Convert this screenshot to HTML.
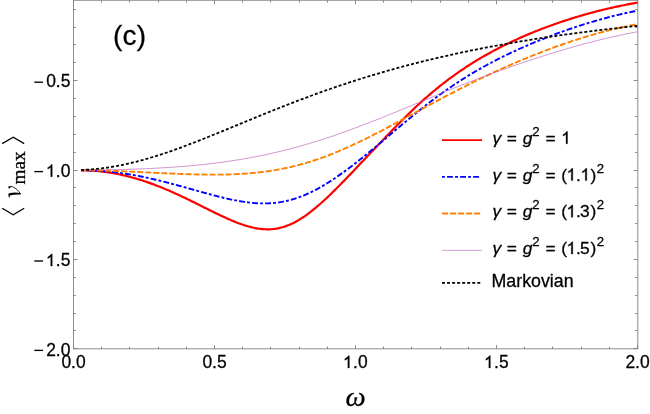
<!DOCTYPE html>
<html><head><meta charset="utf-8"><title>plot</title>
<style>
html,body{margin:0;padding:0;background:#ffffff;}
body{width:650px;height:414px;overflow:hidden;font-family:"Liberation Sans",sans-serif;}
svg{display:block;will-change:transform;}
text{font-family:"Liberation Sans",sans-serif;fill:#000;stroke:#000;stroke-width:0.28px;}
.serif{font-family:"Liberation Serif",serif;}
</style></head>
<body>
<svg width="650" height="414" viewBox="0 0 650 414">
<rect x="0" y="0" width="650" height="414" fill="#ffffff"/>
<g id="curves" stroke-linecap="butt" stroke-linejoin="round">
<path d="M81.0,170.40 L82.4,170.40 L83.8,170.41 L85.2,170.43 L86.6,170.47 L88.0,170.51 L89.4,170.56 L90.8,170.63 L92.2,170.71 L93.6,170.80 L94.9,170.90 L96.3,171.01 L97.7,171.13 L99.1,171.26 L100.5,171.40 L101.9,171.56 L103.3,171.72 L104.7,171.90 L106.1,172.08 L107.5,172.28 L108.9,172.49 L110.3,172.71 L111.7,172.94 L113.1,173.17 L114.5,173.42 L115.9,173.68 L117.3,173.95 L118.7,174.23 L120.1,174.52 L121.4,174.83 L122.8,175.14 L124.2,175.46 L125.6,175.79 L127.0,176.13 L128.4,176.48 L129.8,176.84 L131.2,177.21 L132.6,177.59 L134.0,177.98 L135.4,178.38 L136.8,178.79 L138.2,179.20 L139.6,179.63 L141.0,180.07 L142.4,180.51 L143.8,180.97 L145.2,181.43 L146.6,181.91 L147.9,182.39 L149.3,182.88 L150.7,183.38 L152.1,183.88 L153.5,184.40 L154.9,184.92 L156.3,185.45 L157.7,185.99 L159.1,186.54 L160.5,187.10 L161.9,187.66 L163.3,188.23 L164.7,188.81 L166.1,189.40 L167.5,189.99 L168.9,190.59 L170.3,191.20 L171.7,191.81 L173.1,192.43 L174.4,193.06 L175.8,193.69 L177.2,194.32 L178.6,194.97 L180.0,195.62 L181.4,196.27 L182.8,196.93 L184.2,197.59 L185.6,198.26 L187.0,198.93 L188.4,199.61 L189.8,200.29 L191.2,200.97 L192.6,201.65 L194.0,202.34 L195.4,203.03 L196.8,203.72 L198.2,204.42 L199.6,205.11 L200.9,205.81 L202.3,206.51 L203.7,207.20 L205.1,207.90 L206.5,208.60 L207.9,209.29 L209.3,209.99 L210.7,210.68 L212.1,211.37 L213.5,212.05 L214.9,212.74 L216.3,213.42 L217.7,214.09 L219.1,214.76 L220.5,215.42 L221.9,216.08 L223.3,216.73 L224.7,217.37 L226.1,218.01 L227.4,218.63 L228.8,219.25 L230.2,219.86 L231.6,220.45 L233.0,221.03 L234.4,221.61 L235.8,222.16 L237.2,222.70 L238.6,223.23 L240.0,223.74 L241.4,224.24 L242.8,224.72 L244.2,225.18 L245.6,225.62 L247.0,226.04 L248.4,226.44 L249.8,226.81 L251.2,227.17 L252.6,227.50 L253.9,227.80 L255.3,228.08 L256.7,228.34 L258.1,228.57 L259.5,228.76 L260.9,228.93 L262.3,229.08 L263.7,229.18 L265.1,229.26 L266.5,229.31 L267.9,229.32 L269.3,229.30 L270.7,229.24 L272.1,229.15 L273.5,229.02 L274.9,228.85 L276.3,228.65 L277.7,228.40 L279.1,228.12 L280.4,227.79 L281.8,227.43 L283.2,227.03 L284.6,226.59 L286.0,226.11 L287.4,225.59 L288.8,225.04 L290.2,224.44 L291.6,223.81 L293.0,223.15 L294.4,222.45 L295.8,221.71 L297.2,220.94 L298.6,220.13 L300.0,219.29 L301.4,218.41 L302.8,217.51 L304.2,216.57 L305.6,215.61 L306.9,214.61 L308.3,213.59 L309.7,212.53 L311.1,211.46 L312.5,210.35 L313.9,209.23 L315.3,208.08 L316.7,206.91 L318.1,205.71 L319.5,204.50 L320.9,203.28 L322.3,202.03 L323.7,200.77 L325.1,199.49 L326.5,198.19 L327.9,196.88 L329.3,195.56 L330.7,194.22 L332.1,192.86 L333.4,191.50 L334.8,190.12 L336.2,188.73 L337.6,187.33 L339.0,185.92 L340.4,184.50 L341.8,183.07 L343.2,181.63 L344.6,180.19 L346.0,178.74 L347.4,177.29 L348.8,175.83 L350.2,174.37 L351.6,172.91 L353.0,171.44 L354.4,169.98 L355.8,168.51 L357.2,167.04 L358.6,165.57 L359.9,164.10 L361.3,162.63 L362.7,161.16 L364.1,159.69 L365.5,158.23 L366.9,156.76 L368.3,155.29 L369.7,153.83 L371.1,152.36 L372.5,150.90 L373.9,149.44 L375.3,147.98 L376.7,146.52 L378.1,145.06 L379.5,143.61 L380.9,142.15 L382.3,140.70 L383.7,139.25 L385.1,137.79 L386.4,136.34 L387.8,134.89 L389.2,133.45 L390.6,132.00 L392.0,130.56 L393.4,129.12 L394.8,127.69 L396.2,126.26 L397.6,124.84 L399.0,123.42 L400.4,122.02 L401.8,120.61 L403.2,119.22 L404.6,117.83 L406.0,116.45 L407.4,115.08 L408.8,113.72 L410.2,112.37 L411.6,111.03 L412.9,109.70 L414.3,108.38 L415.7,107.06 L417.1,105.76 L418.5,104.47 L419.9,103.19 L421.3,101.92 L422.7,100.67 L424.1,99.42 L425.5,98.19 L426.9,96.96 L428.3,95.75 L429.7,94.55 L431.1,93.36 L432.5,92.18 L433.9,91.01 L435.3,89.85 L436.7,88.71 L438.1,87.58 L439.4,86.45 L440.8,85.34 L442.2,84.24 L443.6,83.15 L445.0,82.08 L446.4,81.01 L447.8,79.95 L449.2,78.91 L450.6,77.88 L452.0,76.85 L453.4,75.84 L454.8,74.84 L456.2,73.85 L457.6,72.87 L459.0,71.89 L460.4,70.93 L461.8,69.98 L463.2,69.04 L464.6,68.11 L465.9,67.19 L467.3,66.28 L468.7,65.38 L470.1,64.49 L471.5,63.60 L472.9,62.73 L474.3,61.86 L475.7,61.01 L477.1,60.16 L478.5,59.32 L479.9,58.49 L481.3,57.67 L482.7,56.86 L484.1,56.06 L485.5,55.26 L486.9,54.47 L488.3,53.69 L489.7,52.92 L491.1,52.16 L492.4,51.40 L493.8,50.65 L495.2,49.91 L496.6,49.18 L498.0,48.45 L499.4,47.73 L500.8,47.02 L502.2,46.32 L503.6,45.62 L505.0,44.93 L506.4,44.24 L507.8,43.56 L509.2,42.89 L510.6,42.23 L512.0,41.57 L513.4,40.92 L514.8,40.27 L516.2,39.63 L517.6,39.00 L518.9,38.37 L520.3,37.75 L521.7,37.13 L523.1,36.52 L524.5,35.92 L525.9,35.32 L527.3,34.72 L528.7,34.14 L530.1,33.56 L531.5,32.98 L532.9,32.41 L534.3,31.84 L535.7,31.28 L537.1,30.73 L538.5,30.17 L539.9,29.63 L541.3,29.09 L542.7,28.55 L544.1,28.02 L545.4,27.50 L546.8,26.98 L548.2,26.46 L549.6,25.95 L551.0,25.45 L552.4,24.95 L553.8,24.45 L555.2,23.96 L556.6,23.47 L558.0,22.99 L559.4,22.51 L560.8,22.04 L562.2,21.57 L563.6,21.10 L565.0,20.64 L566.4,20.19 L567.8,19.74 L569.2,19.29 L570.6,18.85 L571.9,18.41 L573.3,17.98 L574.7,17.55 L576.1,17.12 L577.5,16.70 L578.9,16.29 L580.3,15.88 L581.7,15.47 L583.1,15.07 L584.5,14.67 L585.9,14.27 L587.3,13.88 L588.7,13.50 L590.1,13.11 L591.5,12.74 L592.9,12.36 L594.3,11.99 L595.7,11.63 L597.1,11.27 L598.4,10.91 L599.8,10.56 L601.2,10.21 L602.6,9.87 L604.0,9.53 L605.4,9.20 L606.8,8.87 L608.2,8.54 L609.6,8.22 L611.0,7.90 L612.4,7.59 L613.8,7.28 L615.2,6.98 L616.6,6.68 L618.0,6.38 L619.4,6.09 L620.8,5.80 L622.2,5.52 L623.6,5.24 L624.9,4.97 L626.3,4.70 L627.7,4.44 L629.1,4.18 L630.5,3.92 L631.9,3.67 L633.3,3.43 L634.7,3.18 L636.1,2.95 L637.5,2.72" fill="none" stroke="#ff0000" stroke-width="2.2"/>
<path d="M81.0,170.30 L82.4,170.29 L83.8,170.30 L85.2,170.31 L86.6,170.33 L88.0,170.35 L89.4,170.39 L90.8,170.43 L92.2,170.48 L93.6,170.53 L94.9,170.60 L96.3,170.67 L97.7,170.74 L99.1,170.83 L100.5,170.92 L101.9,171.02 L103.3,171.13 L104.7,171.24 L106.1,171.36 L107.5,171.49 L108.9,171.62 L110.3,171.76 L111.7,171.91 L113.1,172.07 L114.5,172.23 L115.9,172.40 L117.3,172.57 L118.7,172.75 L120.1,172.94 L121.4,173.13 L122.8,173.33 L124.2,173.54 L125.6,173.75 L127.0,173.97 L128.4,174.20 L129.8,174.43 L131.2,174.66 L132.6,174.91 L134.0,175.16 L135.4,175.41 L136.8,175.67 L138.2,175.93 L139.6,176.21 L141.0,176.48 L142.4,176.76 L143.8,177.05 L145.2,177.34 L146.6,177.64 L147.9,177.94 L149.3,178.25 L150.7,178.56 L152.1,178.88 L153.5,179.20 L154.9,179.52 L156.3,179.85 L157.7,180.18 L159.1,180.52 L160.5,180.86 L161.9,181.21 L163.3,181.56 L164.7,181.91 L166.1,182.27 L167.5,182.63 L168.9,182.99 L170.3,183.36 L171.7,183.73 L173.1,184.10 L174.4,184.47 L175.8,184.85 L177.2,185.23 L178.6,185.61 L180.0,185.99 L181.4,186.38 L182.8,186.77 L184.2,187.15 L185.6,187.54 L187.0,187.93 L188.4,188.33 L189.8,188.72 L191.2,189.11 L192.6,189.50 L194.0,189.90 L195.4,190.29 L196.8,190.68 L198.2,191.07 L199.6,191.46 L200.9,191.85 L202.3,192.24 L203.7,192.63 L205.1,193.01 L206.5,193.40 L207.9,193.78 L209.3,194.16 L210.7,194.53 L212.1,194.90 L213.5,195.27 L214.9,195.64 L216.3,196.00 L217.7,196.35 L219.1,196.71 L220.5,197.05 L221.9,197.39 L223.3,197.73 L224.7,198.06 L226.1,198.38 L227.4,198.70 L228.8,199.01 L230.2,199.31 L231.6,199.61 L233.0,199.89 L234.4,200.17 L235.8,200.44 L237.2,200.70 L238.6,200.96 L240.0,201.20 L241.4,201.43 L242.8,201.65 L244.2,201.86 L245.6,202.06 L247.0,202.24 L248.4,202.42 L249.8,202.58 L251.2,202.72 L252.6,202.86 L253.9,202.98 L255.3,203.09 L256.7,203.18 L258.1,203.26 L259.5,203.32 L260.9,203.37 L262.3,203.40 L263.7,203.41 L265.1,203.40 L266.5,203.38 L267.9,203.35 L269.3,203.29 L270.7,203.21 L272.1,203.12 L273.5,203.01 L274.9,202.87 L276.3,202.72 L277.7,202.55 L279.1,202.35 L280.4,202.14 L281.8,201.90 L283.2,201.65 L284.6,201.37 L286.0,201.07 L287.4,200.75 L288.8,200.41 L290.2,200.05 L291.6,199.67 L293.0,199.26 L294.4,198.84 L295.8,198.40 L297.2,197.93 L298.6,197.44 L300.0,196.94 L301.4,196.41 L302.8,195.86 L304.2,195.29 L305.6,194.71 L306.9,194.10 L308.3,193.47 L309.7,192.83 L311.1,192.16 L312.5,191.48 L313.9,190.77 L315.3,190.05 L316.7,189.31 L318.1,188.56 L319.5,187.78 L320.9,186.99 L322.3,186.18 L323.7,185.36 L325.1,184.52 L326.5,183.66 L327.9,182.79 L329.3,181.91 L330.7,181.01 L332.1,180.10 L333.4,179.18 L334.8,178.24 L336.2,177.29 L337.6,176.33 L339.0,175.36 L340.4,174.38 L341.8,173.39 L343.2,172.39 L344.6,171.37 L346.0,170.35 L347.4,169.32 L348.8,168.28 L350.2,167.23 L351.6,166.17 L353.0,165.10 L354.4,164.02 L355.8,162.94 L357.2,161.85 L358.6,160.75 L359.9,159.64 L361.3,158.53 L362.7,157.41 L364.1,156.29 L365.5,155.16 L366.9,154.02 L368.3,152.88 L369.7,151.73 L371.1,150.58 L372.5,149.43 L373.9,148.27 L375.3,147.11 L376.7,145.95 L378.1,144.78 L379.5,143.61 L380.9,142.44 L382.3,141.27 L383.7,140.10 L385.1,138.92 L386.4,137.75 L387.8,136.57 L389.2,135.40 L390.6,134.22 L392.0,133.04 L393.4,131.87 L394.8,130.69 L396.2,129.52 L397.6,128.35 L399.0,127.18 L400.4,126.01 L401.8,124.84 L403.2,123.68 L404.6,122.52 L406.0,121.36 L407.4,120.20 L408.8,119.05 L410.2,117.90 L411.6,116.76 L412.9,115.61 L414.3,114.48 L415.7,113.35 L417.1,112.22 L418.5,111.10 L419.9,109.98 L421.3,108.88 L422.7,107.77 L424.1,106.67 L425.5,105.58 L426.9,104.50 L428.3,103.42 L429.7,102.35 L431.1,101.28 L432.5,100.23 L433.9,99.18 L435.3,98.13 L436.7,97.10 L438.1,96.07 L439.4,95.05 L440.8,94.03 L442.2,93.03 L443.6,92.03 L445.0,91.04 L446.4,90.06 L447.8,89.08 L449.2,88.12 L450.6,87.16 L452.0,86.21 L453.4,85.26 L454.8,84.33 L456.2,83.40 L457.6,82.48 L459.0,81.57 L460.4,80.67 L461.8,79.77 L463.2,78.89 L464.6,78.01 L465.9,77.14 L467.3,76.27 L468.7,75.42 L470.1,74.57 L471.5,73.73 L472.9,72.89 L474.3,72.07 L475.7,71.25 L477.1,70.44 L478.5,69.64 L479.9,68.84 L481.3,68.05 L482.7,67.27 L484.1,66.49 L485.5,65.73 L486.9,64.96 L488.3,64.21 L489.7,63.46 L491.1,62.72 L492.4,61.99 L493.8,61.26 L495.2,60.54 L496.6,59.82 L498.0,59.11 L499.4,58.41 L500.8,57.71 L502.2,57.02 L503.6,56.33 L505.0,55.65 L506.4,54.97 L507.8,54.30 L509.2,53.64 L510.6,52.98 L512.0,52.33 L513.4,51.68 L514.8,51.03 L516.2,50.39 L517.6,49.76 L518.9,49.13 L520.3,48.50 L521.7,47.88 L523.1,47.26 L524.5,46.65 L525.9,46.04 L527.3,45.44 L528.7,44.84 L530.1,44.24 L531.5,43.65 L532.9,43.06 L534.3,42.48 L535.7,41.90 L537.1,41.32 L538.5,40.75 L539.9,40.19 L541.3,39.62 L542.7,39.07 L544.1,38.51 L545.4,37.96 L546.8,37.41 L548.2,36.87 L549.6,36.33 L551.0,35.80 L552.4,35.27 L553.8,34.74 L555.2,34.22 L556.6,33.70 L558.0,33.19 L559.4,32.68 L560.8,32.17 L562.2,31.67 L563.6,31.17 L565.0,30.68 L566.4,30.19 L567.8,29.70 L569.2,29.22 L570.6,28.74 L571.9,28.27 L573.3,27.80 L574.7,27.33 L576.1,26.87 L577.5,26.41 L578.9,25.95 L580.3,25.50 L581.7,25.06 L583.1,24.61 L584.5,24.18 L585.9,23.74 L587.3,23.31 L588.7,22.89 L590.1,22.46 L591.5,22.04 L592.9,21.63 L594.3,21.22 L595.7,20.82 L597.1,20.41 L598.4,20.02 L599.8,19.62 L601.2,19.23 L602.6,18.85 L604.0,18.47 L605.4,18.09 L606.8,17.72 L608.2,17.35 L609.6,16.99 L611.0,16.63 L612.4,16.27 L613.8,15.92 L615.2,15.58 L616.6,15.23 L618.0,14.90 L619.4,14.56 L620.8,14.24 L622.2,13.91 L623.6,13.59 L624.9,13.28 L626.3,12.97 L627.7,12.66 L629.1,12.36 L630.5,12.06 L631.9,11.77 L633.3,11.49 L634.7,11.20 L636.1,10.93 L637.5,10.65" fill="none" stroke="#0000ff" stroke-width="1.9" stroke-dasharray="2.9,2.15,5.9,2.1"/>
<path d="M81.0,169.89 L82.4,169.92 L83.8,169.95 L85.2,169.99 L86.6,170.02 L88.0,170.06 L89.4,170.10 L90.8,170.14 L92.2,170.18 L93.6,170.22 L94.9,170.26 L96.3,170.30 L97.7,170.35 L99.1,170.39 L100.5,170.44 L101.9,170.49 L103.3,170.54 L104.7,170.58 L106.1,170.63 L107.5,170.69 L108.9,170.74 L110.3,170.79 L111.7,170.84 L113.1,170.90 L114.5,170.95 L115.9,171.01 L117.3,171.07 L118.7,171.12 L120.1,171.18 L121.4,171.24 L122.8,171.30 L124.2,171.36 L125.6,171.42 L127.0,171.49 L128.4,171.55 L129.8,171.61 L131.2,171.67 L132.6,171.74 L134.0,171.80 L135.4,171.87 L136.8,171.93 L138.2,172.00 L139.6,172.06 L141.0,172.13 L142.4,172.20 L143.8,172.26 L145.2,172.33 L146.6,172.40 L147.9,172.46 L149.3,172.53 L150.7,172.60 L152.1,172.66 L153.5,172.73 L154.9,172.80 L156.3,172.86 L157.7,172.93 L159.1,173.00 L160.5,173.06 L161.9,173.13 L163.3,173.19 L164.7,173.25 L166.1,173.32 L167.5,173.38 L168.9,173.44 L170.3,173.50 L171.7,173.56 L173.1,173.62 L174.4,173.68 L175.8,173.74 L177.2,173.80 L178.6,173.85 L180.0,173.91 L181.4,173.96 L182.8,174.01 L184.2,174.06 L185.6,174.11 L187.0,174.16 L188.4,174.20 L189.8,174.25 L191.2,174.29 L192.6,174.33 L194.0,174.36 L195.4,174.40 L196.8,174.43 L198.2,174.47 L199.6,174.50 L200.9,174.52 L202.3,174.55 L203.7,174.57 L205.1,174.59 L206.5,174.60 L207.9,174.62 L209.3,174.63 L210.7,174.64 L212.1,174.64 L213.5,174.64 L214.9,174.64 L216.3,174.64 L217.7,174.63 L219.1,174.62 L220.5,174.60 L221.9,174.58 L223.3,174.56 L224.7,174.53 L226.1,174.50 L227.4,174.46 L228.8,174.43 L230.2,174.38 L231.6,174.33 L233.0,174.28 L234.4,174.22 L235.8,174.16 L237.2,174.10 L238.6,174.02 L240.0,173.95 L241.4,173.87 L242.8,173.78 L244.2,173.69 L245.6,173.59 L247.0,173.49 L248.4,173.38 L249.8,173.26 L251.2,173.14 L252.6,173.02 L253.9,172.88 L255.3,172.75 L256.7,172.60 L258.1,172.45 L259.5,172.30 L260.9,172.13 L262.3,171.96 L263.7,171.79 L265.1,171.60 L266.5,171.42 L267.9,171.22 L269.3,171.02 L270.7,170.81 L272.1,170.59 L273.5,170.36 L274.9,170.13 L276.3,169.89 L277.7,169.65 L279.1,169.39 L280.4,169.13 L281.8,168.86 L283.2,168.59 L284.6,168.30 L286.0,168.01 L287.4,167.71 L288.8,167.40 L290.2,167.09 L291.6,166.76 L293.0,166.43 L294.4,166.09 L295.8,165.74 L297.2,165.39 L298.6,165.02 L300.0,164.65 L301.4,164.27 L302.8,163.88 L304.2,163.49 L305.6,163.08 L306.9,162.67 L308.3,162.25 L309.7,161.82 L311.1,161.38 L312.5,160.94 L313.9,160.48 L315.3,160.02 L316.7,159.56 L318.1,159.08 L319.5,158.60 L320.9,158.10 L322.3,157.60 L323.7,157.10 L325.1,156.58 L326.5,156.06 L327.9,155.53 L329.3,155.00 L330.7,154.45 L332.1,153.90 L333.4,153.34 L334.8,152.78 L336.2,152.21 L337.6,151.63 L339.0,151.05 L340.4,150.46 L341.8,149.86 L343.2,149.26 L344.6,148.65 L346.0,148.03 L347.4,147.41 L348.8,146.78 L350.2,146.15 L351.6,145.51 L353.0,144.87 L354.4,144.22 L355.8,143.57 L357.2,142.91 L358.6,142.25 L359.9,141.58 L361.3,140.91 L362.7,140.23 L364.1,139.55 L365.5,138.87 L366.9,138.18 L368.3,137.48 L369.7,136.79 L371.1,136.08 L372.5,135.38 L373.9,134.67 L375.3,133.96 L376.7,133.24 L378.1,132.52 L379.5,131.80 L380.9,131.08 L382.3,130.35 L383.7,129.62 L385.1,128.89 L386.4,128.15 L387.8,127.42 L389.2,126.68 L390.6,125.93 L392.0,125.19 L393.4,124.45 L394.8,123.70 L396.2,122.95 L397.6,122.20 L399.0,121.45 L400.4,120.70 L401.8,119.95 L403.2,119.20 L404.6,118.45 L406.0,117.69 L407.4,116.94 L408.8,116.18 L410.2,115.43 L411.6,114.67 L412.9,113.92 L414.3,113.16 L415.7,112.41 L417.1,111.65 L418.5,110.90 L419.9,110.14 L421.3,109.39 L422.7,108.63 L424.1,107.88 L425.5,107.13 L426.9,106.38 L428.3,105.63 L429.7,104.88 L431.1,104.13 L432.5,103.38 L433.9,102.63 L435.3,101.89 L436.7,101.14 L438.1,100.40 L439.4,99.65 L440.8,98.91 L442.2,98.17 L443.6,97.43 L445.0,96.70 L446.4,95.96 L447.8,95.23 L449.2,94.49 L450.6,93.76 L452.0,93.04 L453.4,92.31 L454.8,91.58 L456.2,90.86 L457.6,90.14 L459.0,89.42 L460.4,88.70 L461.8,87.99 L463.2,87.28 L464.6,86.57 L465.9,85.86 L467.3,85.16 L468.7,84.46 L470.1,83.76 L471.5,83.06 L472.9,82.37 L474.3,81.68 L475.7,80.99 L477.1,80.30 L478.5,79.62 L479.9,78.94 L481.3,78.26 L482.7,77.59 L484.1,76.92 L485.5,76.25 L486.9,75.59 L488.3,74.93 L489.7,74.27 L491.1,73.62 L492.4,72.97 L493.8,72.32 L495.2,71.67 L496.6,71.03 L498.0,70.39 L499.4,69.76 L500.8,69.12 L502.2,68.50 L503.6,67.87 L505.0,67.25 L506.4,66.63 L507.8,66.01 L509.2,65.40 L510.6,64.79 L512.0,64.19 L513.4,63.58 L514.8,62.98 L516.2,62.39 L517.6,61.80 L518.9,61.21 L520.3,60.62 L521.7,60.04 L523.1,59.46 L524.5,58.88 L525.9,58.31 L527.3,57.74 L528.7,57.17 L530.1,56.60 L531.5,56.04 L532.9,55.48 L534.3,54.93 L535.7,54.38 L537.1,53.83 L538.5,53.28 L539.9,52.74 L541.3,52.20 L542.7,51.66 L544.1,51.13 L545.4,50.60 L546.8,50.07 L548.2,49.55 L549.6,49.03 L551.0,48.51 L552.4,48.00 L553.8,47.49 L555.2,46.98 L556.6,46.48 L558.0,45.98 L559.4,45.48 L560.8,44.99 L562.2,44.50 L563.6,44.01 L565.0,43.53 L566.4,43.05 L567.8,42.58 L569.2,42.10 L570.6,41.64 L571.9,41.17 L573.3,40.71 L574.7,40.26 L576.1,39.81 L577.5,39.36 L578.9,38.91 L580.3,38.47 L581.7,38.04 L583.1,37.61 L584.5,37.18 L585.9,36.75 L587.3,36.33 L588.7,35.92 L590.1,35.51 L591.5,35.10 L592.9,34.70 L594.3,34.30 L595.7,33.90 L597.1,33.51 L598.4,33.13 L599.8,32.74 L601.2,32.37 L602.6,31.99 L604.0,31.62 L605.4,31.26 L606.8,30.90 L608.2,30.54 L609.6,30.19 L611.0,29.85 L612.4,29.50 L613.8,29.17 L615.2,28.83 L616.6,28.51 L618.0,28.18 L619.4,27.86 L620.8,27.55 L622.2,27.24 L623.6,26.94 L624.9,26.64 L626.3,26.34 L627.7,26.05 L629.1,25.77 L630.5,25.49 L631.9,25.21 L633.3,24.94 L634.7,24.67 L636.1,24.41 L637.5,24.16" fill="none" stroke="#ff8000" stroke-width="1.9" stroke-dasharray="6,2.04"/>
<path d="M81.0,169.98 L82.4,169.98 L83.8,169.98 L85.2,169.98 L86.6,169.98 L88.0,169.97 L89.4,169.97 L90.8,169.96 L92.2,169.95 L93.6,169.94 L94.9,169.93 L96.3,169.92 L97.7,169.91 L99.1,169.89 L100.5,169.88 L101.9,169.86 L103.3,169.84 L104.7,169.83 L106.1,169.81 L107.5,169.78 L108.9,169.76 L110.3,169.74 L111.7,169.71 L113.1,169.69 L114.5,169.66 L115.9,169.63 L117.3,169.60 L118.7,169.57 L120.1,169.54 L121.4,169.51 L122.8,169.47 L124.2,169.43 L125.6,169.40 L127.0,169.36 L128.4,169.32 L129.8,169.27 L131.2,169.23 L132.6,169.19 L134.0,169.14 L135.4,169.09 L136.8,169.04 L138.2,168.99 L139.6,168.94 L141.0,168.88 L142.4,168.83 L143.8,168.77 L145.2,168.71 L146.6,168.65 L147.9,168.59 L149.3,168.53 L150.7,168.46 L152.1,168.39 L153.5,168.32 L154.9,168.25 L156.3,168.18 L157.7,168.11 L159.1,168.03 L160.5,167.95 L161.9,167.87 L163.3,167.79 L164.7,167.70 L166.1,167.62 L167.5,167.53 L168.9,167.44 L170.3,167.35 L171.7,167.25 L173.1,167.16 L174.4,167.06 L175.8,166.96 L177.2,166.86 L178.6,166.75 L180.0,166.64 L181.4,166.53 L182.8,166.42 L184.2,166.31 L185.6,166.19 L187.0,166.07 L188.4,165.95 L189.8,165.83 L191.2,165.70 L192.6,165.57 L194.0,165.44 L195.4,165.31 L196.8,165.17 L198.2,165.03 L199.6,164.89 L200.9,164.75 L202.3,164.60 L203.7,164.45 L205.1,164.30 L206.5,164.14 L207.9,163.98 L209.3,163.82 L210.7,163.66 L212.1,163.49 L213.5,163.32 L214.9,163.15 L216.3,162.97 L217.7,162.80 L219.1,162.61 L220.5,162.43 L221.9,162.24 L223.3,162.05 L224.7,161.86 L226.1,161.66 L227.4,161.46 L228.8,161.26 L230.2,161.05 L231.6,160.84 L233.0,160.63 L234.4,160.41 L235.8,160.19 L237.2,159.97 L238.6,159.74 L240.0,159.51 L241.4,159.28 L242.8,159.04 L244.2,158.80 L245.6,158.55 L247.0,158.31 L248.4,158.06 L249.8,157.80 L251.2,157.54 L252.6,157.28 L253.9,157.02 L255.3,156.75 L256.7,156.48 L258.1,156.20 L259.5,155.92 L260.9,155.64 L262.3,155.35 L263.7,155.06 L265.1,154.76 L266.5,154.47 L267.9,154.16 L269.3,153.86 L270.7,153.55 L272.1,153.24 L273.5,152.92 L274.9,152.60 L276.3,152.27 L277.7,151.94 L279.1,151.61 L280.4,151.28 L281.8,150.94 L283.2,150.59 L284.6,150.25 L286.0,149.90 L287.4,149.54 L288.8,149.18 L290.2,148.82 L291.6,148.45 L293.0,148.08 L294.4,147.71 L295.8,147.33 L297.2,146.95 L298.6,146.57 L300.0,146.18 L301.4,145.78 L302.8,145.39 L304.2,144.99 L305.6,144.58 L306.9,144.18 L308.3,143.77 L309.7,143.35 L311.1,142.93 L312.5,142.51 L313.9,142.09 L315.3,141.66 L316.7,141.22 L318.1,140.79 L319.5,140.35 L320.9,139.91 L322.3,139.46 L323.7,139.01 L325.1,138.56 L326.5,138.10 L327.9,137.64 L329.3,137.18 L330.7,136.71 L332.1,136.24 L333.4,135.77 L334.8,135.29 L336.2,134.81 L337.6,134.33 L339.0,133.85 L340.4,133.36 L341.8,132.87 L343.2,132.37 L344.6,131.88 L346.0,131.38 L347.4,130.87 L348.8,130.37 L350.2,129.86 L351.6,129.35 L353.0,128.83 L354.4,128.32 L355.8,127.80 L357.2,127.28 L358.6,126.75 L359.9,126.23 L361.3,125.70 L362.7,125.17 L364.1,124.64 L365.5,124.10 L366.9,123.56 L368.3,123.02 L369.7,122.48 L371.1,121.94 L372.5,121.39 L373.9,120.85 L375.3,120.30 L376.7,119.75 L378.1,119.19 L379.5,118.64 L380.9,118.08 L382.3,117.53 L383.7,116.97 L385.1,116.41 L386.4,115.85 L387.8,115.28 L389.2,114.72 L390.6,114.15 L392.0,113.59 L393.4,113.02 L394.8,112.45 L396.2,111.88 L397.6,111.31 L399.0,110.74 L400.4,110.17 L401.8,109.59 L403.2,109.02 L404.6,108.44 L406.0,107.87 L407.4,107.29 L408.8,106.72 L410.2,106.14 L411.6,105.57 L412.9,104.99 L414.3,104.41 L415.7,103.83 L417.1,103.26 L418.5,102.68 L419.9,102.10 L421.3,101.52 L422.7,100.95 L424.1,100.37 L425.5,99.79 L426.9,99.22 L428.3,98.64 L429.7,98.06 L431.1,97.49 L432.5,96.91 L433.9,96.34 L435.3,95.77 L436.7,95.19 L438.1,94.62 L439.4,94.05 L440.8,93.48 L442.2,92.91 L443.6,92.34 L445.0,91.77 L446.4,91.21 L447.8,90.64 L449.2,90.08 L450.6,89.51 L452.0,88.95 L453.4,88.39 L454.8,87.83 L456.2,87.27 L457.6,86.71 L459.0,86.16 L460.4,85.60 L461.8,85.05 L463.2,84.50 L464.6,83.95 L465.9,83.40 L467.3,82.86 L468.7,82.31 L470.1,81.77 L471.5,81.23 L472.9,80.69 L474.3,80.15 L475.7,79.62 L477.1,79.08 L478.5,78.55 L479.9,78.02 L481.3,77.49 L482.7,76.97 L484.1,76.45 L485.5,75.92 L486.9,75.40 L488.3,74.89 L489.7,74.37 L491.1,73.86 L492.4,73.34 L493.8,72.83 L495.2,72.33 L496.6,71.82 L498.0,71.32 L499.4,70.81 L500.8,70.31 L502.2,69.82 L503.6,69.32 L505.0,68.82 L506.4,68.33 L507.8,67.84 L509.2,67.35 L510.6,66.86 L512.0,66.38 L513.4,65.90 L514.8,65.41 L516.2,64.93 L517.6,64.46 L518.9,63.98 L520.3,63.50 L521.7,63.03 L523.1,62.56 L524.5,62.09 L525.9,61.62 L527.3,61.16 L528.7,60.69 L530.1,60.23 L531.5,59.77 L532.9,59.31 L534.3,58.85 L535.7,58.40 L537.1,57.95 L538.5,57.50 L539.9,57.05 L541.3,56.60 L542.7,56.15 L544.1,55.71 L545.4,55.27 L546.8,54.83 L548.2,54.40 L549.6,53.96 L551.0,53.53 L552.4,53.10 L553.8,52.67 L555.2,52.24 L556.6,51.82 L558.0,51.40 L559.4,50.98 L560.8,50.56 L562.2,50.15 L563.6,49.73 L565.0,49.32 L566.4,48.91 L567.8,48.51 L569.2,48.10 L570.6,47.70 L571.9,47.30 L573.3,46.91 L574.7,46.51 L576.1,46.12 L577.5,45.73 L578.9,45.35 L580.3,44.96 L581.7,44.58 L583.1,44.20 L584.5,43.83 L585.9,43.46 L587.3,43.08 L588.7,42.72 L590.1,42.35 L591.5,41.99 L592.9,41.63 L594.3,41.27 L595.7,40.92 L597.1,40.57 L598.4,40.22 L599.8,39.88 L601.2,39.54 L602.6,39.20 L604.0,38.86 L605.4,38.53 L606.8,38.20 L608.2,37.88 L609.6,37.56 L611.0,37.24 L612.4,36.92 L613.8,36.61 L615.2,36.30 L616.6,35.99 L618.0,35.69 L619.4,35.39 L620.8,35.09 L622.2,34.80 L623.6,34.51 L624.9,34.23 L626.3,33.95 L627.7,33.67 L629.1,33.39 L630.5,33.12 L631.9,32.85 L633.3,32.59 L634.7,32.33 L636.1,32.07 L637.5,31.82" fill="none" stroke="#b962b9" stroke-width="0.7"/>
<path d="M81.0,169.92 L82.4,169.87 L83.8,169.81 L85.2,169.75 L86.6,169.67 L88.0,169.59 L89.4,169.50 L90.8,169.40 L92.2,169.29 L93.6,169.18 L94.9,169.05 L96.3,168.92 L97.7,168.77 L99.1,168.62 L100.5,168.46 L101.9,168.30 L103.3,168.12 L104.7,167.93 L106.1,167.74 L107.5,167.54 L108.9,167.33 L110.3,167.12 L111.7,166.89 L113.1,166.66 L114.5,166.42 L115.9,166.17 L117.3,165.92 L118.7,165.65 L120.1,165.38 L121.4,165.10 L122.8,164.82 L124.2,164.52 L125.6,164.22 L127.0,163.92 L128.4,163.60 L129.8,163.28 L131.2,162.95 L132.6,162.62 L134.0,162.28 L135.4,161.93 L136.8,161.57 L138.2,161.21 L139.6,160.84 L141.0,160.47 L142.4,160.09 L143.8,159.70 L145.2,159.31 L146.6,158.91 L147.9,158.51 L149.3,158.10 L150.7,157.68 L152.1,157.26 L153.5,156.83 L154.9,156.40 L156.3,155.96 L157.7,155.52 L159.1,155.07 L160.5,154.62 L161.9,154.17 L163.3,153.70 L164.7,153.24 L166.1,152.77 L167.5,152.29 L168.9,151.81 L170.3,151.33 L171.7,150.84 L173.1,150.35 L174.4,149.85 L175.8,149.35 L177.2,148.85 L178.6,148.35 L180.0,147.83 L181.4,147.32 L182.8,146.80 L184.2,146.28 L185.6,145.76 L187.0,145.24 L188.4,144.71 L189.8,144.17 L191.2,143.64 L192.6,143.10 L194.0,142.56 L195.4,142.02 L196.8,141.48 L198.2,140.93 L199.6,140.38 L200.9,139.83 L202.3,139.28 L203.7,138.72 L205.1,138.16 L206.5,137.61 L207.9,137.05 L209.3,136.48 L210.7,135.92 L212.1,135.36 L213.5,134.79 L214.9,134.22 L216.3,133.66 L217.7,133.09 L219.1,132.52 L220.5,131.95 L221.9,131.37 L223.3,130.80 L224.7,130.23 L226.1,129.65 L227.4,129.08 L228.8,128.51 L230.2,127.93 L231.6,127.35 L233.0,126.78 L234.4,126.20 L235.8,125.63 L237.2,125.05 L238.6,124.47 L240.0,123.90 L241.4,123.32 L242.8,122.75 L244.2,122.17 L245.6,121.60 L247.0,121.02 L248.4,120.45 L249.8,119.87 L251.2,119.30 L252.6,118.73 L253.9,118.15 L255.3,117.58 L256.7,117.01 L258.1,116.44 L259.5,115.87 L260.9,115.30 L262.3,114.74 L263.7,114.17 L265.1,113.60 L266.5,113.04 L267.9,112.48 L269.3,111.91 L270.7,111.35 L272.1,110.79 L273.5,110.24 L274.9,109.68 L276.3,109.12 L277.7,108.57 L279.1,108.01 L280.4,107.46 L281.8,106.91 L283.2,106.36 L284.6,105.82 L286.0,105.27 L287.4,104.73 L288.8,104.18 L290.2,103.64 L291.6,103.10 L293.0,102.57 L294.4,102.03 L295.8,101.49 L297.2,100.96 L298.6,100.43 L300.0,99.90 L301.4,99.38 L302.8,98.85 L304.2,98.33 L305.6,97.81 L306.9,97.29 L308.3,96.77 L309.7,96.25 L311.1,95.74 L312.5,95.23 L313.9,94.72 L315.3,94.21 L316.7,93.70 L318.1,93.20 L319.5,92.70 L320.9,92.20 L322.3,91.70 L323.7,91.20 L325.1,90.71 L326.5,90.22 L327.9,89.73 L329.3,89.24 L330.7,88.75 L332.1,88.27 L333.4,87.79 L334.8,87.31 L336.2,86.83 L337.6,86.36 L339.0,85.89 L340.4,85.42 L341.8,84.95 L343.2,84.48 L344.6,84.02 L346.0,83.55 L347.4,83.10 L348.8,82.64 L350.2,82.18 L351.6,81.73 L353.0,81.28 L354.4,80.83 L355.8,80.38 L357.2,79.94 L358.6,79.49 L359.9,79.05 L361.3,78.62 L362.7,78.18 L364.1,77.75 L365.5,77.32 L366.9,76.89 L368.3,76.46 L369.7,76.03 L371.1,75.61 L372.5,75.19 L373.9,74.77 L375.3,74.35 L376.7,73.94 L378.1,73.53 L379.5,73.12 L380.9,72.71 L382.3,72.30 L383.7,71.90 L385.1,71.50 L386.4,71.10 L387.8,70.70 L389.2,70.31 L390.6,69.91 L392.0,69.52 L393.4,69.13 L394.8,68.75 L396.2,68.36 L397.6,67.98 L399.0,67.60 L400.4,67.22 L401.8,66.84 L403.2,66.47 L404.6,66.09 L406.0,65.72 L407.4,65.36 L408.8,64.99 L410.2,64.62 L411.6,64.26 L412.9,63.90 L414.3,63.54 L415.7,63.19 L417.1,62.83 L418.5,62.48 L419.9,62.13 L421.3,61.78 L422.7,61.43 L424.1,61.09 L425.5,60.74 L426.9,60.40 L428.3,60.06 L429.7,59.73 L431.1,59.39 L432.5,59.06 L433.9,58.73 L435.3,58.40 L436.7,58.07 L438.1,57.74 L439.4,57.42 L440.8,57.10 L442.2,56.78 L443.6,56.46 L445.0,56.14 L446.4,55.82 L447.8,55.51 L449.2,55.20 L450.6,54.89 L452.0,54.58 L453.4,54.27 L454.8,53.97 L456.2,53.67 L457.6,53.37 L459.0,53.07 L460.4,52.77 L461.8,52.47 L463.2,52.18 L464.6,51.88 L465.9,51.59 L467.3,51.30 L468.7,51.02 L470.1,50.73 L471.5,50.45 L472.9,50.16 L474.3,49.88 L475.7,49.60 L477.1,49.32 L478.5,49.05 L479.9,48.77 L481.3,48.50 L482.7,48.23 L484.1,47.96 L485.5,47.69 L486.9,47.42 L488.3,47.15 L489.7,46.89 L491.1,46.63 L492.4,46.37 L493.8,46.11 L495.2,45.85 L496.6,45.59 L498.0,45.34 L499.4,45.08 L500.8,44.83 L502.2,44.58 L503.6,44.33 L505.0,44.08 L506.4,43.83 L507.8,43.59 L509.2,43.34 L510.6,43.10 L512.0,42.86 L513.4,42.62 L514.8,42.38 L516.2,42.15 L517.6,41.91 L518.9,41.68 L520.3,41.44 L521.7,41.21 L523.1,40.98 L524.5,40.75 L525.9,40.52 L527.3,40.30 L528.7,40.07 L530.1,39.85 L531.5,39.62 L532.9,39.40 L534.3,39.18 L535.7,38.96 L537.1,38.75 L538.5,38.53 L539.9,38.31 L541.3,38.10 L542.7,37.89 L544.1,37.67 L545.4,37.46 L546.8,37.25 L548.2,37.05 L549.6,36.84 L551.0,36.63 L552.4,36.43 L553.8,36.22 L555.2,36.02 L556.6,35.82 L558.0,35.62 L559.4,35.42 L560.8,35.22 L562.2,35.03 L563.6,34.83 L565.0,34.64 L566.4,34.44 L567.8,34.25 L569.2,34.06 L570.6,33.87 L571.9,33.68 L573.3,33.49 L574.7,33.30 L576.1,33.12 L577.5,32.93 L578.9,32.75 L580.3,32.56 L581.7,32.38 L583.1,32.20 L584.5,32.02 L585.9,31.84 L587.3,31.66 L588.7,31.49 L590.1,31.31 L591.5,31.13 L592.9,30.96 L594.3,30.79 L595.7,30.61 L597.1,30.44 L598.4,30.27 L599.8,30.10 L601.2,29.93 L602.6,29.77 L604.0,29.60 L605.4,29.43 L606.8,29.27 L608.2,29.10 L609.6,28.94 L611.0,28.78 L612.4,28.62 L613.8,28.46 L615.2,28.30 L616.6,28.14 L618.0,27.98 L619.4,27.82 L620.8,27.67 L622.2,27.51 L623.6,27.36 L624.9,27.20 L626.3,27.05 L627.7,26.90 L629.1,26.75 L630.5,26.59 L631.9,26.44 L633.3,26.30 L634.7,26.15 L636.1,26.00 L637.5,25.85" fill="none" stroke="#000000" stroke-width="1.8" stroke-dasharray="3,2.04"/>
</g>
<g id="frame" stroke="#808080" stroke-width="0.9" fill="none">
<line x1="73.5" y1="0" x2="73.5" y2="348.95"/>
<line x1="637.8" y1="0" x2="637.8" y2="348.95"/>
<line x1="73.05" y1="348.8" x2="638.25" y2="348.8"/>
<line x1="73.5" y1="0.3" x2="637.5" y2="0.3"/>
<line x1="73.50" y1="348.95" x2="73.50" y2="344.95"/>
<line x1="73.50" y1="0.3" x2="73.50" y2="4.3"/>
<line x1="101.50" y1="348.95" x2="101.50" y2="346.55"/>
<line x1="101.50" y1="0.3" x2="101.50" y2="2.6999999999999997"/>
<line x1="129.50" y1="348.95" x2="129.50" y2="346.55"/>
<line x1="129.50" y1="0.3" x2="129.50" y2="2.6999999999999997"/>
<line x1="158.50" y1="348.95" x2="158.50" y2="346.55"/>
<line x1="158.50" y1="0.3" x2="158.50" y2="2.6999999999999997"/>
<line x1="186.50" y1="348.95" x2="186.50" y2="346.55"/>
<line x1="186.50" y1="0.3" x2="186.50" y2="2.6999999999999997"/>
<line x1="214.50" y1="348.95" x2="214.50" y2="344.95"/>
<line x1="214.50" y1="0.3" x2="214.50" y2="4.3"/>
<line x1="242.50" y1="348.95" x2="242.50" y2="346.55"/>
<line x1="242.50" y1="0.3" x2="242.50" y2="2.6999999999999997"/>
<line x1="270.50" y1="348.95" x2="270.50" y2="346.55"/>
<line x1="270.50" y1="0.3" x2="270.50" y2="2.6999999999999997"/>
<line x1="299.50" y1="348.95" x2="299.50" y2="346.55"/>
<line x1="299.50" y1="0.3" x2="299.50" y2="2.6999999999999997"/>
<line x1="327.50" y1="348.95" x2="327.50" y2="346.55"/>
<line x1="327.50" y1="0.3" x2="327.50" y2="2.6999999999999997"/>
<line x1="355.50" y1="348.95" x2="355.50" y2="344.95"/>
<line x1="355.50" y1="0.3" x2="355.50" y2="4.3"/>
<line x1="383.50" y1="348.95" x2="383.50" y2="346.55"/>
<line x1="383.50" y1="0.3" x2="383.50" y2="2.6999999999999997"/>
<line x1="411.50" y1="348.95" x2="411.50" y2="346.55"/>
<line x1="411.50" y1="0.3" x2="411.50" y2="2.6999999999999997"/>
<line x1="440.50" y1="348.95" x2="440.50" y2="346.55"/>
<line x1="440.50" y1="0.3" x2="440.50" y2="2.6999999999999997"/>
<line x1="468.50" y1="348.95" x2="468.50" y2="346.55"/>
<line x1="468.50" y1="0.3" x2="468.50" y2="2.6999999999999997"/>
<line x1="496.50" y1="348.95" x2="496.50" y2="344.95"/>
<line x1="496.50" y1="0.3" x2="496.50" y2="4.3"/>
<line x1="524.50" y1="348.95" x2="524.50" y2="346.55"/>
<line x1="524.50" y1="0.3" x2="524.50" y2="2.6999999999999997"/>
<line x1="552.50" y1="348.95" x2="552.50" y2="346.55"/>
<line x1="552.50" y1="0.3" x2="552.50" y2="2.6999999999999997"/>
<line x1="581.50" y1="348.95" x2="581.50" y2="346.55"/>
<line x1="581.50" y1="0.3" x2="581.50" y2="2.6999999999999997"/>
<line x1="609.50" y1="348.95" x2="609.50" y2="346.55"/>
<line x1="609.50" y1="0.3" x2="609.50" y2="2.6999999999999997"/>
<line x1="637.50" y1="348.95" x2="637.50" y2="344.95"/>
<line x1="637.50" y1="0.3" x2="637.50" y2="4.3"/>
<line x1="73.5" y1="348.50" x2="77.5" y2="348.50"/>
<line x1="637.5" y1="348.50" x2="633.5" y2="348.50"/>
<line x1="73.5" y1="330.50" x2="75.9" y2="330.50"/>
<line x1="637.5" y1="330.50" x2="635.1" y2="330.50"/>
<line x1="73.5" y1="313.50" x2="75.9" y2="313.50"/>
<line x1="637.5" y1="313.50" x2="635.1" y2="313.50"/>
<line x1="73.5" y1="295.50" x2="75.9" y2="295.50"/>
<line x1="637.5" y1="295.50" x2="635.1" y2="295.50"/>
<line x1="73.5" y1="277.50" x2="75.9" y2="277.50"/>
<line x1="637.5" y1="277.50" x2="635.1" y2="277.50"/>
<line x1="73.5" y1="259.50" x2="77.5" y2="259.50"/>
<line x1="637.5" y1="259.50" x2="633.5" y2="259.50"/>
<line x1="73.5" y1="241.50" x2="75.9" y2="241.50"/>
<line x1="637.5" y1="241.50" x2="635.1" y2="241.50"/>
<line x1="73.5" y1="223.50" x2="75.9" y2="223.50"/>
<line x1="637.5" y1="223.50" x2="635.1" y2="223.50"/>
<line x1="73.5" y1="205.50" x2="75.9" y2="205.50"/>
<line x1="637.5" y1="205.50" x2="635.1" y2="205.50"/>
<line x1="73.5" y1="187.50" x2="75.9" y2="187.50"/>
<line x1="637.5" y1="187.50" x2="635.1" y2="187.50"/>
<line x1="73.5" y1="170.50" x2="77.5" y2="170.50"/>
<line x1="637.5" y1="170.50" x2="633.5" y2="170.50"/>
<line x1="73.5" y1="152.50" x2="75.9" y2="152.50"/>
<line x1="637.5" y1="152.50" x2="635.1" y2="152.50"/>
<line x1="73.5" y1="134.50" x2="75.9" y2="134.50"/>
<line x1="637.5" y1="134.50" x2="635.1" y2="134.50"/>
<line x1="73.5" y1="116.50" x2="75.9" y2="116.50"/>
<line x1="637.5" y1="116.50" x2="635.1" y2="116.50"/>
<line x1="73.5" y1="98.50" x2="75.9" y2="98.50"/>
<line x1="637.5" y1="98.50" x2="635.1" y2="98.50"/>
<line x1="73.5" y1="80.50" x2="77.5" y2="80.50"/>
<line x1="637.5" y1="80.50" x2="633.5" y2="80.50"/>
<line x1="73.5" y1="62.50" x2="75.9" y2="62.50"/>
<line x1="637.5" y1="62.50" x2="635.1" y2="62.50"/>
<line x1="73.5" y1="44.50" x2="75.9" y2="44.50"/>
<line x1="637.5" y1="44.50" x2="635.1" y2="44.50"/>
<line x1="73.5" y1="27.50" x2="75.9" y2="27.50"/>
<line x1="637.5" y1="27.50" x2="635.1" y2="27.50"/>
<line x1="73.5" y1="9.50" x2="75.9" y2="9.50"/>
<line x1="637.5" y1="9.50" x2="635.1" y2="9.50"/>
</g>
<g id="ticklabels" font-size="17.45">
<text x="73.50" y="367.9" text-anchor="middle">0.0</text>
<text x="214.50" y="367.9" text-anchor="middle">0.5</text>
<text x="353.08" y="367.9">.0</text>
<path d="M763 0L583 0L583 1147Q518 1085 412.5 1023Q307 961 223 930L223 1104Q374 1175 487 1276Q600 1377 647 1472L763 1472Z" transform="translate(343.02,367.90) scale(0.00830,-0.00830)" fill="#000" stroke="#000" stroke-width="40"/>
<text x="494.08" y="367.9">.5</text>
<path d="M763 0L583 0L583 1147Q518 1085 412.5 1023Q307 961 223 930L223 1104Q374 1175 487 1276Q600 1377 647 1472L763 1472Z" transform="translate(484.02,367.90) scale(0.00830,-0.00830)" fill="#000" stroke="#000" stroke-width="40"/>
<text x="637.50" y="367.9" text-anchor="middle">2.0</text>
<text x="70.4" y="87.32" text-anchor="end">0.5</text>
<rect x="34.3" y="81.52" width="8.7" height="1.35" fill="#000"/>
<text x="70.4" y="176.72" text-anchor="end">.0</text>
<path d="M763 0L583 0L583 1147Q518 1085 412.5 1023Q307 961 223 930L223 1104Q374 1175 487 1276Q600 1377 647 1472L763 1472Z" transform="translate(45.90,176.72) scale(0.00830,-0.00830)" fill="#000" stroke="#000" stroke-width="40"/>
<rect x="34.3" y="170.92" width="8.7" height="1.35" fill="#000"/>
<text x="70.4" y="266.12" text-anchor="end">.5</text>
<path d="M763 0L583 0L583 1147Q518 1085 412.5 1023Q307 961 223 930L223 1104Q374 1175 487 1276Q600 1377 647 1472L763 1472Z" transform="translate(45.90,266.12) scale(0.00830,-0.00830)" fill="#000" stroke="#000" stroke-width="40"/>
<rect x="34.3" y="260.32" width="8.7" height="1.35" fill="#000"/>
<text x="70.4" y="355.52" text-anchor="end">2.0</text>
<rect x="34.3" y="349.72" width="8.7" height="1.35" fill="#000"/>
</g>
<text x="112.9" y="44.5" font-size="28" letter-spacing="0.3">(c)</text>
<g id="ylabel" transform="translate(0,0)">
<path d="M2.2,143.6 L13.2,137.2 L24.2,143.6" fill="none" stroke="#000" stroke-width="1.3"/>
<path d="M2.2,208.2 L13.2,214.8 L24.2,208.2" fill="none" stroke="#000" stroke-width="1.3"/>
<path d="M20.8,193.9 L20.3,193.0 Q15,191.9 10.0,193.0 Q8.1,193.3 8.3,194.9 L9.0,197.6 L9.9,197.4 L9.7,195.4 Q15,194.1 20.7,194.5 Z" fill="#000"/>
<path d="M20.4,193.7 C18.4,190.6 15.5,187.7 12.4,186.7 Q10.9,186.2 9.9,186.5" fill="none" stroke="#000" stroke-width="0.85" stroke-linecap="round"/>
<circle cx="9.4" cy="187.3" r="1.15" fill="#000"/>
<text class="serif" transform="translate(25.1,184.6) rotate(-90)" font-size="19.3" stroke-width="0.1">max</text>
</g>
<text class="serif" transform="translate(345.55,405.75) scale(1.075,1)" font-size="26.6" font-style="italic" stroke-width="0.12">ω</text>
<g id="legend">
<line x1="442.0" y1="140.1" x2="482.1" y2="140.1" stroke="#ff0000" stroke-width="1.9"/>
<text x="492.56" y="143.75" font-size="17.4" font-style="italic">γ</text>
<text x="506.85" y="143.75" font-size="17.4">=</text>
<text x="522.77" y="143.75" font-size="17.4" font-style="italic">g</text>
<text x="532.14" y="135.75" font-size="13.2">2</text>
<text x="545.45" y="143.75" font-size="17.4">=</text>
<path d="M763 0L583 0L583 1147Q518 1085 412.5 1023Q307 961 223 930L223 1104Q374 1175 487 1276Q600 1377 647 1472L763 1472Z" transform="translate(561.20,143.75) scale(0.00830,-0.00830)" fill="#000" stroke="#000" stroke-width="40"/>
<line x1="442.0" y1="176.9" x2="481.0" y2="176.9" stroke="#0000ff" stroke-width="1.8" stroke-dasharray="2.9,2.15,5.9,2.1"/>
<text x="492.56" y="180.55" font-size="17.4" font-style="italic">γ</text>
<text x="506.85" y="180.55" font-size="17.4">=</text>
<text x="522.77" y="180.55" font-size="17.4" font-style="italic">g</text>
<text x="532.14" y="172.55" font-size="13.2">2</text>
<text x="545.45" y="180.55" font-size="17.4">=</text>
<text x="561.22" y="180.55" font-size="17.4">(</text>
<path d="M763 0L583 0L583 1147Q518 1085 412.5 1023Q307 961 223 930L223 1104Q374 1175 487 1276Q600 1377 647 1472L763 1472Z" transform="translate(566.45,180.55) scale(0.00830,-0.00830)" fill="#000" stroke="#000" stroke-width="40"/>
<text x="576.01" y="180.55" font-size="17.4">.</text>
<path d="M763 0L583 0L583 1147Q518 1085 412.5 1023Q307 961 223 930L223 1104Q374 1175 487 1276Q600 1377 647 1472L763 1472Z" transform="translate(580.45,180.55) scale(0.00830,-0.00830)" fill="#000" stroke="#000" stroke-width="40"/>
<text x="590.50" y="180.55" font-size="17.4">)</text>
<text x="596.64" y="172.55" font-size="13.2">2</text>
<line x1="442.0" y1="213.5" x2="482.1" y2="213.5" stroke="#ff8000" stroke-width="1.8" stroke-dasharray="6,2.04"/>
<text x="492.56" y="217.15" font-size="17.4" font-style="italic">γ</text>
<text x="506.85" y="217.15" font-size="17.4">=</text>
<text x="522.77" y="217.15" font-size="17.4" font-style="italic">g</text>
<text x="532.14" y="209.15" font-size="13.2">2</text>
<text x="545.45" y="217.15" font-size="17.4">=</text>
<text x="561.22" y="217.15" font-size="17.4">(</text>
<path d="M763 0L583 0L583 1147Q518 1085 412.5 1023Q307 961 223 930L223 1104Q374 1175 487 1276Q600 1377 647 1472L763 1472Z" transform="translate(566.45,217.15) scale(0.00830,-0.00830)" fill="#000" stroke="#000" stroke-width="40"/>
<text x="576.01" y="217.15" font-size="17.4">.</text>
<text x="579.94" y="217.15" font-size="17.4">3</text>
<text x="590.50" y="217.15" font-size="17.4">)</text>
<text x="596.64" y="209.15" font-size="13.2">2</text>
<line x1="442.0" y1="250.4" x2="482.1" y2="250.4" stroke="#bf70bf" stroke-width="0.65"/>
<text x="492.56" y="254.05" font-size="17.4" font-style="italic">γ</text>
<text x="506.85" y="254.05" font-size="17.4">=</text>
<text x="522.77" y="254.05" font-size="17.4" font-style="italic">g</text>
<text x="532.14" y="246.05" font-size="13.2">2</text>
<text x="545.45" y="254.05" font-size="17.4">=</text>
<text x="561.22" y="254.05" font-size="17.4">(</text>
<path d="M763 0L583 0L583 1147Q518 1085 412.5 1023Q307 961 223 930L223 1104Q374 1175 487 1276Q600 1377 647 1472L763 1472Z" transform="translate(566.45,254.05) scale(0.00830,-0.00830)" fill="#000" stroke="#000" stroke-width="40"/>
<text x="576.01" y="254.05" font-size="17.4">.</text>
<text x="579.90" y="254.05" font-size="17.4">5</text>
<text x="590.50" y="254.05" font-size="17.4">)</text>
<text x="596.64" y="246.05" font-size="13.2">2</text>
<line x1="442.0" y1="282.9" x2="482.1" y2="282.9" stroke="#000000" stroke-width="1.8" stroke-dasharray="3,2.04"/>
<text x="491.54" y="286.60" font-size="17.8">Markovian</text>
</g>
</svg>
</body></html>
